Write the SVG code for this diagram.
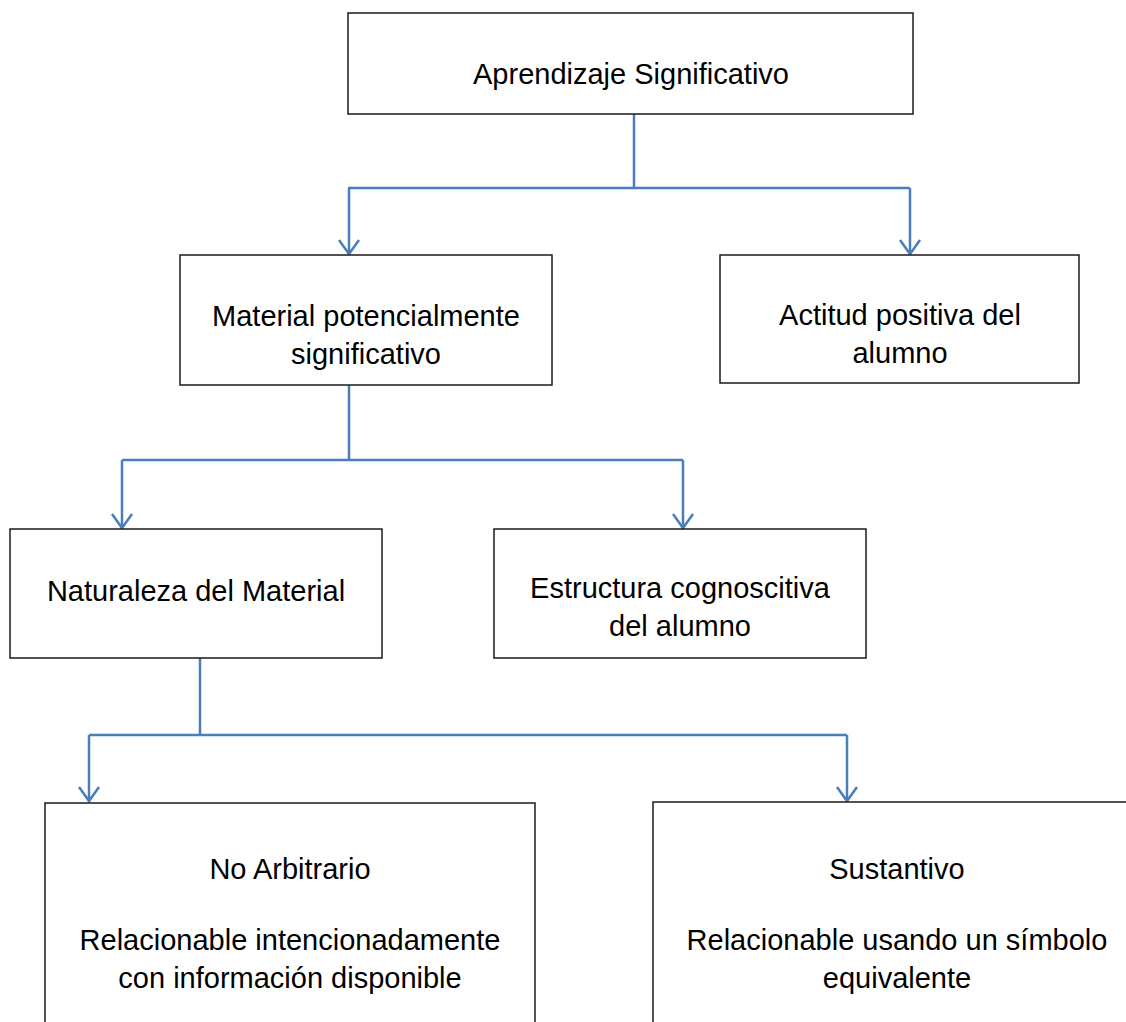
<svg xmlns="http://www.w3.org/2000/svg" width="1126" height="1022" viewBox="0 0 1126 1022">
<style>
.box{fill:#fff;stroke:#1a1a1a;stroke-width:1.5}
.t{font-family:"Liberation Sans",Arial,sans-serif;font-size:29px;fill:#000;text-anchor:middle}
.c{fill:none;stroke:#4A7EBB;stroke-width:2.5}
</style>
<defs>
<marker id="ah" markerUnits="userSpaceOnUse" markerWidth="30" markerHeight="30" viewBox="-20 -15 25 30" refX="0" refY="0" orient="auto">
<path d="M-14,-10 L0,0 L-14,10" fill="none" stroke="#4A7EBB" stroke-width="2.5"/>
</marker>
</defs>
<rect width="1126" height="1022" fill="#fff"/>
<g id="connectors">
<path class="c" d="M634,114 V188"/>
<path class="c" d="M348,188 H910"/>
<path class="c" d="M349,188 V254" marker-end="url(#ah)"/>
<path class="c" d="M910,188 V254" marker-end="url(#ah)"/>
<path class="c" d="M349,385 V460"/>
<path class="c" d="M122,460 H683"/>
<path class="c" d="M122,460 V528" marker-end="url(#ah)"/>
<path class="c" d="M683,460 V528" marker-end="url(#ah)"/>
<path class="c" d="M200,658 V735"/>
<path class="c" d="M89,735 H847"/>
<path class="c" d="M89,735 V801" marker-end="url(#ah)"/>
<path class="c" d="M847,735 V801" marker-end="url(#ah)"/>
</g>
<g id="n1">
<rect class="box" x="348" y="13" width="565" height="101"/>
<text class="t" x="631" y="84">Aprendizaje Significativo</text>
</g>
<g id="n2">
<rect class="box" x="180" y="255" width="372" height="130"/>
<text class="t" x="366" y="326">Material potencialmente</text>
<text class="t" x="366" y="364">significativo</text>
</g>
<g id="n3">
<rect class="box" x="720" y="255" width="359" height="128"/>
<text class="t" x="900" y="325">Actitud positiva del</text>
<text class="t" x="900" y="363">alumno</text>
</g>
<g id="n4">
<rect class="box" x="10" y="529" width="372" height="129"/>
<text class="t" x="196" y="601">Naturaleza del Material</text>
</g>
<g id="n5">
<rect class="box" x="494" y="529" width="372" height="129"/>
<text class="t" x="680" y="598">Estructura cognoscitiva</text>
<text class="t" x="680" y="636">del alumno</text>
</g>
<g id="n6">
<rect class="box" x="45" y="803" width="490" height="240"/>
<text class="t" x="290" y="879">No Arbitrario</text>
<text class="t" x="290" y="950">Relacionable intencionadamente</text>
<text class="t" x="290" y="988">con información disponible</text>
</g>
<g id="n7">
<rect class="box" x="653" y="802" width="490" height="240"/>
<text class="t" x="897" y="879">Sustantivo</text>
<text class="t" x="897" y="950">Relacionable usando un símbolo</text>
<text class="t" x="897" y="988">equivalente</text>
</g>
</svg>
